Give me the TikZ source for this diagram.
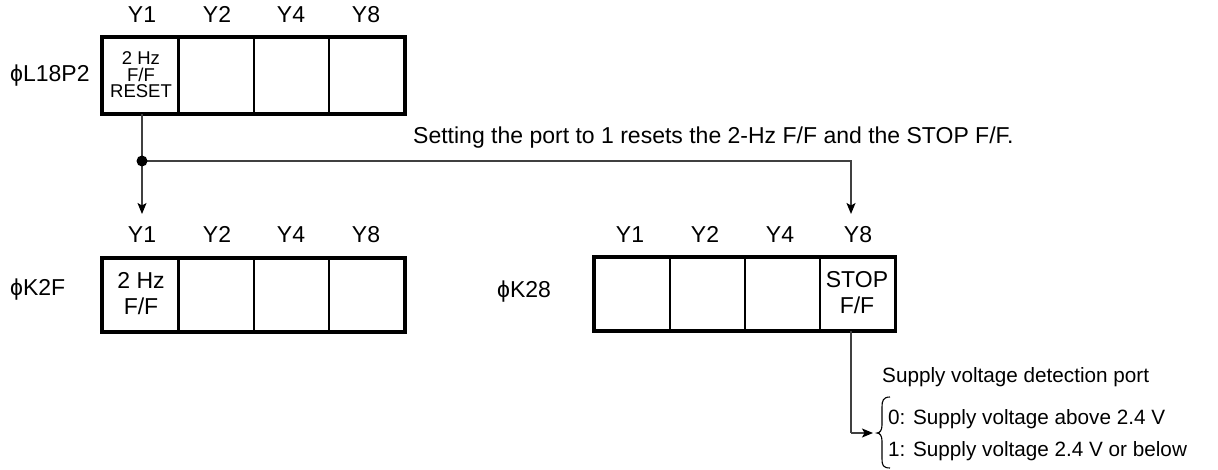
\documentclass[tikz,border=0pt]{standalone}
\usepackage{fontspec}
\setmainfont{Liberation Sans}
\usetikzlibrary{arrows.meta}
\begin{document}
\begin{tikzpicture}[x=1pt,y=-1pt,
  every node/.style={font=\fontsize{23}{28}\selectfont, inner sep=0pt},
  cell/.style={draw, line width=2pt, minimum width=75pt, anchor=north west, align=center},
  outer/.style={draw, line width=3.5pt},
  conn/.style={draw=black!75, line width=1.4pt},
  tip/.style={-{Stealth[length=11pt,width=9pt,inset=2.5pt,black]}},
  ylab/.style={anchor=base},
  note/.style={anchor=base west, font=\fontsize{20.7}{24}\selectfont}]
\useasboundingbox (0,0) rectangle (1218,470);
% top register
\foreach \i/\x in {1/102,2/178,3/253,4/328}
  \node[cell, minimum height=75pt] (t\i) at (\x,37) {};
\node[align=center, font=\fontsize{18.5}{16.5}\selectfont] (tc) at (141,75) {2 Hz\\F/F\\RESET};
\draw[outer] (t1.north west) rectangle (t4.south east);
\node[ylab] (ty1) at (142,23) {Y1};
\node[ylab] (ty2) at (217,23) {Y2};
\node[ylab] (ty4) at (291,23) {Y4};
\node[ylab] (ty8) at (366,23) {Y8};
\node[anchor=west] (tname) at (10,76) {ϕL18P2};
% bottom left register
\foreach \i/\x in {1/102,2/178,3/253,4/328}
  \node[cell, minimum height=72pt] (a\i) at (\x,258) {};
\node[align=center, font=\fontsize{23}{26}\selectfont] (ac) at (141,294) {2 Hz\\F/F};
\draw[outer] (a1.north west) rectangle (a4.south east);
\node[ylab] (ay1) at (142,243) {Y1};
\node[ylab] (ay2) at (217,243) {Y2};
\node[ylab] (ay4) at (291,243) {Y4};
\node[ylab] (ay8) at (366,243) {Y8};
\node[anchor=west] (aname) at (10,290) {ϕK2F};
% bottom right register
\foreach \i/\x in {1/594,2/669,3/744,4/819}
  \node[cell, minimum height=72pt, minimum width=74.5pt] (b\i) at (\x,257) {};
\node[align=center, font=\fontsize{23}{26}\selectfont] (bc) at (857,293) {STOP\\F/F};
\draw[outer] (b1.north west) rectangle (b4.south east);
\node[ylab] (by1) at (630,243) {Y1};
\node[ylab] (by2) at (705,243) {Y2};
\node[ylab] (by4) at (780,243) {Y4};
\node[ylab] (by8) at (858,243) {Y8};
\node[anchor=west] (bname) at (497,292) {ϕK28};
% connectors
\coordinate (j) at (142,161);
\coordinate (r) at (851,161);
\coordinate (ja) at (142,214);
\coordinate (rb) at (851,214);
\draw[conn] (j |- t1.south) -- (j);
\draw[conn, tip] (j) -- (ja);
\draw[conn, tip] (j) -- (r) -- (rb);
\fill (j) circle (5.5pt);
\node[anchor=west] (msg) at (413,138) {Setting the port to 1 resets the 2-Hz F/F and the STOP F/F.};
% supply voltage
\coordinate (s0) at (851,329);
\coordinate (s1) at (851,433);
\coordinate (s2) at (873,433);
\draw[conn] (s0 |- b4.south) -- (s1);
\draw[conn, tip] (s1) -- (s2);
\draw[line width=1.1pt] (890,397) .. controls (883,397) and (882,401) .. (882,407) -- (882,425) .. controls (882,430) and (880,433) .. (877,433) .. controls (880,433) and (882,436) .. (882,441) -- (882,459) .. controls (882,465) and (883,468) .. (890,468);
\node[note] (hdr) at (882,382) {Supply voltage detection port};
\node[note] (o0) at (888,424) {0: Supply voltage above 2.4 V};
\node[note] (o1) at (888,456) {1: Supply voltage 2.4 V or below};
\end{tikzpicture}
\end{document}
